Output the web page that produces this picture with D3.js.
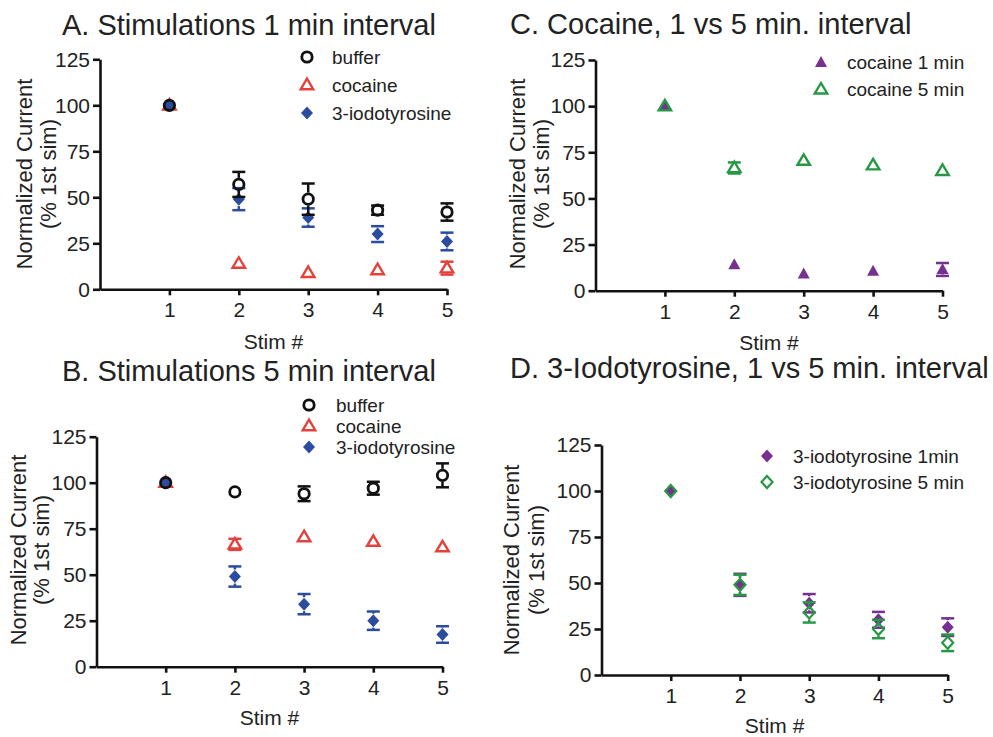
<!DOCTYPE html>
<html>
<head>
  <title>Normalized current across stimulations</title>
  <script src="https://d3js.org/d3.v7.min.js"></script>
  <style>
    body { margin: 0; background: #fff; }
    text { font-family: "Liberation Sans", Arial, sans-serif; fill: #222; }
  </style>
</head>
<body>
  <div id="chart"></div>

  <script>
    // stimulation number and y ticks
    var stims = [1, 2, 3, 4, 5];
    var yTickValues = [0, 25, 50, 75, 100, 125];

    // 1 min interval (mean, sem)
    var buffer1 = [100, 57, 49, 43, 42];
    var buffer1Err = [0, 6.8, 8.5, 2.5, 4.7];
    var cocaine1 = [100, 14, 9, 10.5, 11.5];
    var cocaine1Err = [0, 1.5, 1, 1, 3.5];
    var iodo1 = [100, 49, 39, 30, 26];
    var iodo1Err = [0, 6, 5, 4.3, 4.8];

    // 5 min interval (mean, sem)
    var buffer5 = [100, 95, 94, 97, 104];
    var buffer5Err = [0, 1, 4, 3.5, 6.5];
    var cocaine5 = [100, 66.5, 70.5, 68, 65];
    var cocaine5Err = [0, 3, 1, 1, 1];
    var iodo5 = [100, 49, 34, 25, 17.5];
    var iodo5Err = [0, 5.5, 5.5, 5, 4.5];

    var black = "#111", red = "#e5413b", blue = "#2b4c9f", purple = "#76308f", green = "#279944";

    var svg = d3.select("#chart").append("svg")
      .attr("width", 993)
      .attr("height", 737);

    // marker extents: [top, bottom] offsets from centre
    function markerExtent(shape) {
      if (shape == "circle") return [-6.5, 6.5];
      if (shape == "triangle") return [-7, 5];
      return [-7, 7];
    }

    function drawMarker(g, shape, filled, color, cx, cy) {
      if (shape == "circle") {
        g.append("circle")
          .attr("cx", cx).attr("cy", cy).attr("r", 5.2)
          .attr("fill", filled ? color : "none")
          .attr("stroke", color).attr("stroke-width", 2.8);
      } else if (shape == "triangle") {
        var w = filled ? 12 : 12.5, h = filled ? 11 : 10.5;
        var p = d3.path();
        p.moveTo(cx, cy - h * 0.6);
        p.lineTo(cx + w / 2, cy + h * 0.4);
        p.lineTo(cx - w / 2, cy + h * 0.4);
        p.closePath();
        g.append("path").attr("d", p.toString())
          .attr("fill", filled ? color : "none")
          .attr("stroke", filled ? "none" : color)
          .attr("stroke-width", 2.4);
      } else {
        var a = filled ? 6 : 5.5, b = filled ? 6.5 : 6;
        var q = d3.path();
        q.moveTo(cx, cy - b);
        q.lineTo(cx + a, cy);
        q.lineTo(cx, cy + b);
        q.lineTo(cx - a, cy);
        q.closePath();
        g.append("path").attr("d", q.toString())
          .attr("fill", filled ? color : "none")
          .attr("stroke", filled ? "none" : color)
          .attr("stroke-width", 2.2);
      }
    }

    function drawPanel(p) {
      var g = svg.append("g");
      var x = d3.scaleLinear().domain([0, 5]).range([p.xL, p.xR]);
      var y = d3.scaleLinear().domain([0, 125]).range([p.yB, p.yT]);

      // axes
      var yAxis = g.append("g")
        .attr("transform", "translate(" + p.xL + ",0)")
        .call(d3.axisLeft(y).tickValues(yTickValues).tickSize(7).tickSizeOuter(0).tickPadding(3));
      var xAxis = g.append("g")
        .attr("transform", "translate(0," + p.yB + ")")
        .call(d3.axisBottom(x).tickValues(stims).tickFormat(d3.format("d"))
          .tickSize(6).tickSizeOuter(0).tickPadding(7));
      [yAxis, xAxis].forEach(function(a) {
        a.selectAll("path, line").attr("stroke", black).attr("stroke-width", 2.6);
        a.selectAll("text").attr("font-size", 21).attr("fill", "#222")
          .attr("font-family", "'Liberation Sans', Arial, sans-serif");
      });

      // titles and labels
      g.append("text").attr("x", p.titleX).attr("y", p.titleY)
        .attr("font-size", 29).text(p.title);
      g.append("text").attr("text-anchor", "middle").attr("font-size", 21)
        .attr("x", (p.xL + p.xR) / 2).attr("y", p.xlabY).text("Stim #");
      g.append("text").attr("text-anchor", "middle").attr("font-size", 22)
        .attr("transform", "translate(" + p.ylab1 + "," + p.ylabC + ") rotate(-90)")
        .text("Normalized Current");
      g.append("text").attr("text-anchor", "middle").attr("font-size", 22)
        .attr("transform", "translate(" + p.ylab2 + "," + p.ylabC + ") rotate(-90)")
        .text("(% 1st sim)");

      // data: error bars then markers, in drawing order
      p.order.forEach(function(i) {
        var s = p.series[i];
        var ext = markerExtent(s.shape);
        stims.forEach(function(st, k) {
          var cx = x(st), cy = y(s.values[k]);
          var up = y(s.values[k] + s.errs[k]), dn = y(s.values[k] - s.errs[k]);
          var ePx = cy - up;
          if (ePx >= 4) {
            var lines = [[cx - 6.5, up, cx + 6.5, up], [cx - 6.5, dn, cx + 6.5, dn]];
            if (up < cy + ext[0]) lines.push([cx, up, cx, cy + ext[0]]);
            if (dn > cy + ext[1]) lines.push([cx, cy + ext[1], cx, dn]);
            lines.forEach(function(l) {
              g.append("line")
                .attr("x1", l[0]).attr("y1", l[1]).attr("x2", l[2]).attr("y2", l[3])
                .attr("stroke", s.color).attr("stroke-width", 2.5);
            });
          }
          drawMarker(g, s.shape, s.filled, s.color, cx, cy);
        });
      });

      // legend
      p.series.forEach(function(s, i) {
        var ly = p.legRows[i];
        drawMarker(g, s.shape, s.filled, s.color, p.legSymX, ly);
        g.append("text").attr("x", p.legTextX).attr("y", ly + 6.5)
          .attr("font-size", 19).text(s.name);
      });
    }

    drawPanel({
      title: "A. Stimulations 1 min interval", titleX: 62, titleY: 35,
      xL: 100, xR: 447, yT: 59.3, yB: 289.3,
      xlabY: 349, ylab1: 32, ylab2: 55.5, ylabC: 174,
      legSymX: 307, legTextX: 332, legRows: [57, 85, 113],
      series: [
        { name: "buffer", values: buffer1, errs: buffer1Err, shape: "circle", filled: false, color: black },
        { name: "cocaine", values: cocaine1, errs: cocaine1Err, shape: "triangle", filled: false, color: red },
        { name: "3-iodotyrosine", values: iodo1, errs: iodo1Err, shape: "diamond", filled: true, color: blue }
      ],
      order: [1, 2, 0]
    });

    drawPanel({
      title: "B. Stimulations 5 min interval", titleX: 62, titleY: 381,
      xL: 96.5, xR: 442.5, yT: 436.7, yB: 666.7,
      xlabY: 725, ylab1: 25.5, ylab2: 49, ylabC: 550,
      legSymX: 309, legTextX: 336, legRows: [405, 426, 447],
      series: [
        { name: "buffer", values: buffer5, errs: buffer5Err, shape: "circle", filled: false, color: black },
        { name: "cocaine", values: cocaine5, errs: cocaine5Err, shape: "triangle", filled: false, color: red },
        { name: "3-iodotyrosine", values: iodo5, errs: iodo5Err, shape: "diamond", filled: true, color: blue }
      ],
      order: [1, 2, 0]
    });

    drawPanel({
      title: "C. Cocaine, 1 vs 5 min. interval", titleX: 510, titleY: 34,
      xL: 595.5, xR: 942.5, yT: 60, yB: 290.7,
      xlabY: 350, ylab1: 525, ylab2: 549, ylabC: 174,
      legSymX: 821, legTextX: 847, legRows: [62.7, 89.3],
      series: [
        { name: "cocaine 1 min", values: cocaine1, errs: cocaine1Err, shape: "triangle", filled: true, color: purple },
        { name: "cocaine 5 min", values: cocaine5, errs: cocaine5Err, shape: "triangle", filled: false, color: green }
      ],
      order: [0, 1]
    });

    drawPanel({
      title: "D. 3-Iodotyrosine, 1 vs 5 min. interval", titleX: 510, titleY: 378,
      xL: 601.5, xR: 947.7, yT: 445, yB: 675,
      xlabY: 733, ylab1: 518.5, ylab2: 544, ylabC: 560,
      legSymX: 767, legTextX: 793, legRows: [456, 482],
      series: [
        { name: "3-iodotyrosine 1min", values: iodo1, errs: iodo1Err, shape: "diamond", filled: true, color: purple },
        { name: "3-iodotyrosine 5 min", values: iodo5, errs: iodo5Err, shape: "diamond", filled: false, color: green }
      ],
      order: [0, 1]
    });
  </script>
</body>
</html>
